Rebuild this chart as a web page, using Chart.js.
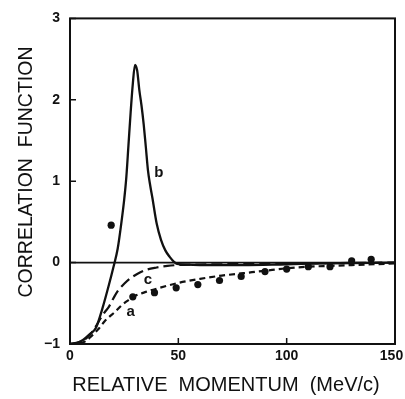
<!DOCTYPE html>
<html lang="en">
<head>
<meta charset="utf-8"/>
<script src="https://cdn.jsdelivr.net/npm/chart.js@4.4.1/dist/chart.umd.min.js"></script>
<style>
    html, body { margin: 0; padding: 0; background: #fff; }
    #wrap { width: 405px; height: 399px; }
</style>
</head>
<body>
<div id="wrap"><canvas id="chart"></canvas></div>
<script>
// curve b (solid, resonance peak)
const bX = [0, 3, 6, 9, 12, 15, 18, 20, 22, 24, 25, 26, 27, 28, 29, 30, 31, 32, 33, 34, 35, 36, 37, 38, 40, 42, 44, 46, 48, 50, 60, 80, 100, 120, 150];
const bY = [-1.0, -0.99, -0.95, -0.88, -0.8, -0.56, -0.27, -0.06, 0.17, 0.55, 0.77, 1.05, 1.45, 1.85, 2.2, 2.43, 2.36, 2.12, 1.93, 1.7, 1.42, 1.13, 0.95, 0.8, 0.48, 0.28, 0.15, 0.07, 0.01, -0.02, -0.03, -0.03, -0.02, -0.01, 0.0];
// curve c (long dashes)
const cX = [0, 5, 8, 10, 12, 14, 16, 18, 20, 22, 25, 28, 31, 35, 40, 45, 50, 70, 100, 150];
const cY = [-1.0, -0.97, -0.92, -0.86, -0.78, -0.69, -0.61, -0.54, -0.44, -0.35, -0.26, -0.19, -0.14, -0.09, -0.06, -0.04, -0.03, -0.02, -0.01, 0.0];
// curve a (short dashes)
const aX = [0, 5, 8, 10, 13, 16, 18, 21, 24, 27, 30, 35, 40, 50, 60, 70, 80, 90, 100, 110, 120, 130, 150];
const aY = [-1.0, -0.99, -0.95, -0.9, -0.82, -0.72, -0.67, -0.6, -0.52, -0.46, -0.41, -0.36, -0.32, -0.25, -0.2, -0.16, -0.13, -0.1, -0.07, -0.05, -0.04, -0.03, -0.01];
// measured points
const dotX = [19, 29, 39, 49, 59, 69, 79, 90, 100, 110, 120, 130, 139];
const dotY = [0.46, -0.42, -0.37, -0.31, -0.27, -0.22, -0.17, -0.11, -0.08, -0.05, -0.05, 0.02, 0.04];
// zero reference line
const zeroX = [0, 150];
const zeroY = [0, 0];
// curve tags
const tagText = ['b', 'c', 'a'];
const tagX = [41, 36, 28];
const tagY = [1.1, -0.21, -0.61];

const xTicks = [0, 50, 100, 150];
const yTicks = [-1, 0, 1, 2, 3];
const xTitle = 'RELATIVE  MOMENTUM  (MeV/c)';
const yTitle = 'CORRELATION  FUNCTION';

function pairs(xs, ys) {
    return xs.map(function(x, i) { return {x: x, y: ys[i]}; });
}

const ink = '#111';

const framePlugin = {
    id: 'frame',
    afterDatasetsDraw: function(chart) {
        const ctx = chart.ctx;
        const a = chart.chartArea;
        const xs = chart.scales.x, ys = chart.scales.y;
        ctx.save();
        ctx.strokeStyle = ink;
        ctx.lineWidth = 2;
        ctx.strokeRect(a.left, a.top, a.right - a.left, a.bottom - a.top);
        ctx.lineWidth = 1.5;
        ctx.beginPath();
        yTicks.forEach(function(v) {
            const p = ys.getPixelForValue(v);
            ctx.moveTo(a.left, p);
            ctx.lineTo(a.left + 6, p);
        });
        xTicks.forEach(function(v) {
            const p = xs.getPixelForValue(v);
            ctx.moveTo(p, a.bottom);
            ctx.lineTo(p, a.bottom - 6);
        });
        ctx.stroke();
        ctx.fillStyle = ink;
        ctx.textAlign = 'center';
        ctx.textBaseline = 'middle';
        ctx.font = 'bold 15px "Liberation Sans"';
        tagText.forEach(function(t, i) {
            ctx.fillText(t, xs.getPixelForValue(tagX[i]), ys.getPixelForValue(tagY[i]));
        });
        // axis titles
        ctx.font = '20px "Liberation Sans"';
        ctx.fillText(xTitle, 226, 385);
        ctx.translate(27, 172);
        ctx.rotate(-Math.PI / 2);
        ctx.font = '19.5px "Liberation Sans"';
        ctx.fillText(yTitle, 0, 0);
        ctx.restore();
    }
};

const lineBase = {
    showLine: true,
    pointRadius: 0,
    borderColor: ink,
    backgroundColor: ink,
    cubicInterpolationMode: 'monotone'
};

new Chart(document.getElementById('chart'), {
    type: 'scatter',
    data: {
        datasets: [
            Object.assign({label: 'zero', data: pairs(zeroX, zeroY), borderWidth: 1.6}, lineBase),
            Object.assign({label: 'b', data: pairs(bX, bY), borderWidth: 2.3}, lineBase),
            Object.assign({label: 'c', data: pairs(cX, cY), borderWidth: 2.2, borderDash: [11, 5]}, lineBase),
            Object.assign({label: 'a', data: pairs(aX, aY), borderWidth: 2.2, borderDash: [6, 4]}, lineBase),
            {
                label: 'data',
                data: pairs(dotX, dotY),
                showLine: false,
                pointRadius: 3.6,
                pointBorderWidth: 0,
                backgroundColor: ink,
                borderColor: ink
            }
        ]
    },
    options: {
        responsive: true,
        maintainAspectRatio: false,
        animation: false,
        layout: {padding: {left: 0, right: 10, top: 16, bottom: 0}},
        plugins: {legend: {display: false}, tooltip: {enabled: false}},
        scales: {
            x: {
                type: 'linear',
                min: 0,
                max: 150,
                afterBuildTicks: function(s) { s.ticks = xTicks.map(function(v) { return {value: v}; }); },
                afterFit: function(s) { s.height = 55; s.paddingRight = 0; s.paddingLeft = 0; },
                grid: {display: false, drawTicks: false},
                border: {display: false},
                ticks: {
                    padding: 4,
                    color: ink,
                    maxRotation: 0,
                    font: {family: 'Liberation Sans', size: 14, weight: 'bold'},
                    callback: function(v) { return v === 150 ? '150\u2002' : String(v); }
                }
            },
            y: {
                type: 'linear',
                min: -1,
                max: 3,
                afterBuildTicks: function(s) { s.ticks = yTicks.map(function(v) { return {value: v}; }); },
                afterFit: function(s) { s.width = 70; },
                grid: {display: false, drawTicks: false},
                border: {display: false},
                ticks: {
                    padding: 10,
                    color: ink,
                    font: {family: 'Liberation Sans', size: 14, weight: 'bold'},
                    callback: function(v) { return v < 0 ? '\u2212' + Math.abs(v) : String(v); }
                }
            }
        }
    },
    plugins: [framePlugin]
});
</script>
</body>
</html>
